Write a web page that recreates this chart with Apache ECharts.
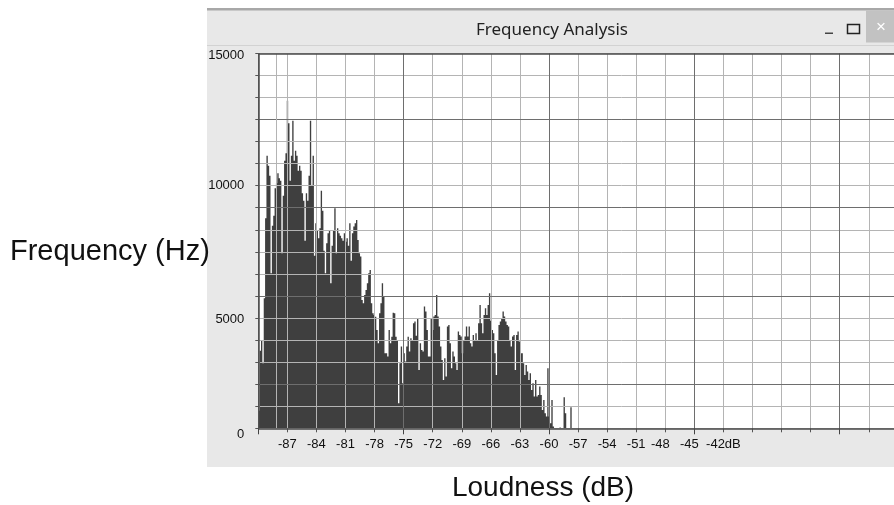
<!DOCTYPE html>
<html>
<head>
<meta charset="utf-8">
<script src="https://cdn.jsdelivr.net/npm/echarts@6/dist/echarts.min.js"></script>
<style>
  html, body { margin: 0; padding: 0; background: #fff; overflow: hidden; }
  #wrap { position: relative; width: 894px; height: 505px; overflow: hidden; }
  #panel { position: absolute; left: 207px; top: 8px; width: 687px; height: 459px; background: #e8e8e8; }
  #main { position: absolute; left: 0; top: 0; width: 1000px; height: 505px; }
</style>
</head>
<body>
<div id="wrap">
  <div id="panel"></div>
  <div id="main"></div>
</div>
<script>
// histogram bins: loudness in dB, 0.14 dB per bin starting at -90
var binStart = -90;
var binWidth = 0.14;
var counts = [
  700, 3100, 3500, 2600, 5200, 8400, 10900, 10500, 10100, 6200,
  8100, 8500, 9600, 9800, 10200, 10000, 9900, 7000, 9300, 10700,
  11000, 13100, 12200, 9900, 10900, 12300, 10700, 11100, 10900, 10300,
  10500, 10300, 9400, 9100, 7500, 9400, 9100, 10100, 12300, 9700,
  10900, 6900, 8200, 7900, 7600, 8000, 9500, 8700, 7100, 6200,
  7400, 7800, 7900, 5800, 7300, 7900, 8800,
  7000, 8000, 7800, 7700, 7600, 7500, 7800, 7460, 7600, 7300,
  8200, 6700, 7800, 8070, 8200, 8330, 7530, 7000, 6870, 5130,
  5000, 5330, 5530, 5800, 6200, 6330, 5000, 4600, 4530, 4460,
  3930, 3400, 4600, 5000, 5800, 5270, 3000, 3000, 2870, 3930,
  3400, 3660, 4620, 4600, 3660, 3530, 1000, 2600, 3270, 1800,
  3000, 2670, 3270, 3660, 3070, 3600, 3530,
  4200, 4270, 3700, 4400, 2330, 3400, 3130, 3070, 4870, 4670,
  3930, 2870, 2870, 4400, 3930, 4470, 4530, 5330, 4470, 4070,
  3270, 2730, 1930, 2800, 2070, 4070, 4130, 3400, 2400, 3070,
  2870, 2600, 2330, 3870, 3730, 3670, 3000, 3530, 3670, 4070,
  3670, 4070, 3400, 3270, 3730, 3530, 3800, 3530, 4200, 4930,
  4200, 3800, 4530, 4800, 4530, 4930, 5400,
  4300, 3930, 3800, 3000, 2130, 3530, 4130, 4270, 4400, 4670,
  4470, 4270, 4130, 4070, 3530, 3270, 3670, 3730, 2330, 3730,
  3870, 3470, 3000, 3000, 2600, 2130, 2530, 2270, 1930, 2200,
  1530, 1800, 1270, 1930, 1270, 1330, 1670, 1330, 730, 1130,
  600, 470, 2400, 470, 200, 1130, 70, 0, 0, 0,
  0, 30, 0, 0, 1240, 600, 0, 0, 0, 840
];
// x tick labels that are printed
var xLabelTicks = [-87, -84, -81, -78, -75, -72, -69, -66, -63, -60, -57, -54, -51, -48, -45, -42];
var yLabelTicks = [0, 5000, 10000, 15000];

var data = counts.map(function (c, i) {
  return [binStart + binWidth * (i + 0.5), c];
});

// the chart canvas is wider than the window; the plot runs past the right edge
var chart = echarts.init(document.getElementById('main'));

var minorGrid = { color: '#b4b4b4', width: 1 };
var majorGrid = { color: '#6e6e6e', width: 1 };
var edge = { color: '#4a4a4a', width: 1.5, type: 'solid' };
var yRows = 17; // horizontal grid divisions
var yMax = 15000;
var xMin = -90, xMax = -15;
var pxPerDb = 9.69;

// small per-label vertical shifts seen in the original screenshot
var yShift = { 0: 6, 5000: 16, 10000: 7, 15000: 2 };
var yRich = {};
yLabelTicks.forEach(function (v) {
  yRich['s' + v] = { fontSize: 13, fontFamily: 'Liberation Sans', color: '#111', padding: [yShift[v] * 2, 0, 0, 0] };
});
var xRich = {
  n: { fontSize: 13, fontFamily: 'Liberation Sans', color: '#111' },
  l: { fontSize: 13, fontFamily: 'Liberation Sans', color: '#111', padding: [0, 10, 0, 0] }
};

chart.setOption({
  animation: false,
  grid: { left: 258.3, top: 53.3, width: (xMax - xMin) * pxPerDb, height: 375, show: true, backgroundColor: '#fff', borderWidth: 0 },
  graphic: [
    { type: 'rect', shape: { x: 207, y: 8, width: 687, height: 2.5 }, style: { fill: '#a8a8a8' }, silent: true },
    { type: 'rect', shape: { x: 207, y: 45, width: 687, height: 1 }, style: { fill: '#d2d2d2' }, silent: true },
    { type: 'text', x: 552, y: 30, silent: true,
      style: { text: 'Frequency Analysis', font: '17px "Noto Sans"', fill: '#222', align: 'center', verticalAlign: 'middle', textAlign: 'center', textVerticalAlign: 'middle' } },
    { type: 'rect', shape: { x: 825, y: 32.5, width: 8, height: 1.5 }, style: { fill: '#444' }, silent: true },
    { type: 'rect', shape: { x: 847.5, y: 24.5, width: 12, height: 9 }, style: { fill: 'none', stroke: '#222', lineWidth: 1.5 }, silent: true },
    { type: 'rect', shape: { x: 866, y: 10.5, width: 30, height: 32 }, style: { fill: '#c2c2c2' }, silent: true },
    { type: 'text', x: 881, y: 27, silent: true,
      style: { text: '×', font: '17px "Liberation Sans"', fill: '#fff', align: 'center', verticalAlign: 'middle', textAlign: 'center', textVerticalAlign: 'middle' } },
    { type: 'text', x: 10, y: 252, silent: true,
      style: { text: 'Frequency (Hz)', font: '29px "Liberation Sans"', fill: '#111', align: 'left', verticalAlign: 'middle', textAlign: 'left', textVerticalAlign: 'middle' } },
    { type: 'text', x: 543, y: 488, silent: true,
      style: { text: 'Loudness (dB)', font: '28px "Liberation Sans"', fill: '#111', align: 'center', verticalAlign: 'middle', textAlign: 'center', textVerticalAlign: 'middle' } }
  ],
  xAxis: [
    {
      type: 'value', min: xMin, max: xMax, interval: 3, position: 'bottom', z: 3,
      axisLine: { show: false },
      axisTick: { show: true, length: 4, lineStyle: { color: '#555' } },
      axisLabel: {
        margin: 10,
        fontSize: 13, fontFamily: 'Liberation Sans', color: '#111',
        rich: xRich,
        formatter: function (v) {
          if (xLabelTicks.indexOf(v) < 0) return '';
          if (v === -42) return '{n|-42dB}';
          if (v === -48 || v === -45) return '{l|' + v + '}';
          return '{n|' + v + '}';
        }
      },
      splitLine: { show: true, lineStyle: minorGrid }
    },
    {
      type: 'value', min: xMin, max: xMax, interval: 15, position: 'bottom', z: 4,
      axisLine: { show: false },
      axisTick: { show: true, length: 6, lineStyle: { color: '#444' } },
      axisLabel: { show: false },
      splitLine: { show: true, lineStyle: majorGrid }
    }
  ],
  yAxis: [
    {
      type: 'value', min: 0, max: yRows, interval: 1, position: 'left', z: 3,
      axisLine: { show: false },
      axisTick: { show: true, length: 3, lineStyle: { color: '#555' } },
      axisLabel: { show: false },
      splitLine: { show: true, lineStyle: minorGrid }
    },
    {
      type: 'value', min: 0, max: yMax, interval: 5000, position: 'left', z: 3,
      axisLine: { show: false },
      axisTick: { show: false },
      splitLine: { show: false },
      axisLabel: {
        margin: 14, fontSize: 13, fontFamily: 'Liberation Sans', color: '#111',
        rich: yRich,
        formatter: function (v) { return '{s' + v + '|' + v + '}'; }
      }
    }
  ],
  series: [
    {
      type: 'bar',
      xAxisIndex: 0,
      yAxisIndex: 1,
      data: data,
      large: true,
      largeThreshold: 50,
      barWidth: binWidth * pxPerDb,
      itemStyle: { color: '#3f3f3f' },
      z: 2,
      markLine: {
        silent: true,
        symbol: 'none',
        label: { show: false },
        data: [
          { yAxis: 2 * yMax / yRows, lineStyle: majorGrid },
          { yAxis: 6 * yMax / yRows, lineStyle: majorGrid },
          { yAxis: 10 * yMax / yRows, lineStyle: majorGrid },
          { yAxis: 14 * yMax / yRows, lineStyle: majorGrid },
          { xAxis: -88.1, lineStyle: { color: '#b4b4b4', width: 1, type: 'solid' } },
          { yAxis: yMax, lineStyle: edge },
          { yAxis: 0, lineStyle: edge },
          { xAxis: xMin, lineStyle: edge }
        ],
        lineStyle: { type: 'solid' }
      }
    }
  ]
});
</script>
</body>
</html>
